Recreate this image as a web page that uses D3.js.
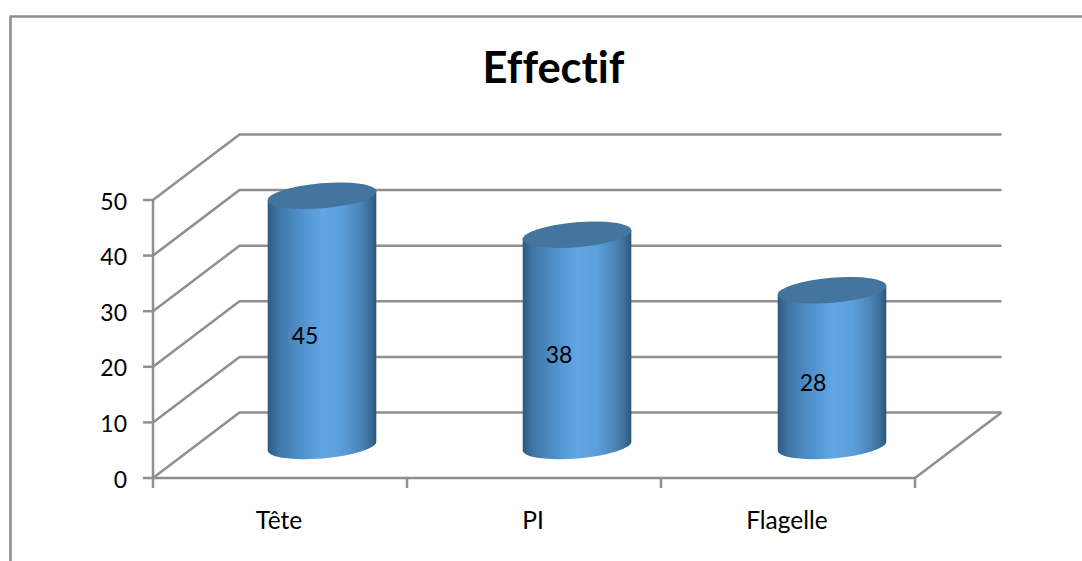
<!DOCTYPE html>
<html><head><meta charset="utf-8">
<script src="https://cdn.jsdelivr.net/npm/d3@7"></script>
<style>html,body{margin:0;background:#fff}svg{display:block}text{font-family:Lato,"Open Sans",sans-serif;fill:#000;font-variant-ligatures:none}</style>
</head><body><div id="c"></div>
<script>
const categories = ["Tête","PI","Flagelle"];
const values = [45,38,28];
const yTicks = [0,10,20,30,40,50];
const title = "Effectif";

const W=1082,H=561,grid="#8f8f8f";
const depthX=86.5, depthY=-65.5;
const svg=d3.select("#c").append("svg").attr("width",W).attr("height",H);
const x=d3.scaleBand().domain(categories).range([153,915]);
const xBar=d3.scalePoint().domain(categories).range([322,832]);
const y=d3.scaleLinear().domain([0,50]).range([478,200]);

const defs=svg.append("defs");
const g=defs.append("linearGradient").attr("id","cyl").attr("x1",0).attr("x2",1).attr("y1",0).attr("y2",0);
[[0,"#2f5a82"],[.1,"#3f77a6"],[.3,"#5090cb"],[.5,"#60a6e4"],[.68,"#5c9fdc"],[.85,"#4c85b9"],[.95,"#3a6a95"],[1,"#2d5577"]]
 .forEach(s=>g.append("stop").attr("offset",s[0]).attr("stop-color",s[1]));

// frame
svg.append("path").attr("d",`M10.5,${H}V16.5H${W}`).attr("fill","none").attr("stroke",grid).attr("stroke-width",2.6);

// walls and gridlines
const wall=svg.append("g").attr("fill","none").attr("stroke",grid).attr("stroke-width",2.5);
yTicks.forEach(t=>{
  wall.append("path").attr("d",d3.line()([[x.range()[0],y(t)],[x.range()[0]+depthX,y(t)+depthY],[x.range()[1]+depthX,y(t)+depthY]]));
  wall.append("line").attr("x1",143).attr("x2",x.range()[0]).attr("y1",y(t)).attr("y2",y(t));
});
wall.append("path").attr("d",d3.line()([[x.range()[0],y(50)],[x.range()[0],y(0)],[x.range()[1],y(0)],[x.range()[1]+depthX,y(0)+depthY]]));
[0,1,2,3].forEach(i=>{
  const px=x.range()[0]+i*x.step();
  wall.append("line").attr("x1",px).attr("x2",px).attr("y1",y(0)).attr("y2",488);
});

// y labels
svg.append("g").selectAll("text").data(yTicks).join("text")
  .attr("x",127).attr("y",d=>y(d)+9.5).attr("text-anchor","end").attr("font-size",23)
  .text(d=>d);

// cylinders
const rx=54.5, ry=12.5, tilt=-4.8;
const sinT=Math.sin(tilt*Math.PI/180)*rx, cosT=Math.cos(tilt*Math.PI/180)*rx;
const bars=svg.append("g").selectAll("g").data(values).join("g");
const cx=(d,i)=>xBar(categories[i]);
const baseY=y(0)-32;
const topY=d=>baseY-(y(0)-y(d));
bars.append("path").attr("fill","url(#cyl)").attr("d",(d,i)=>{
  const c=cx(d,i),t=topY(d);
  return `M${c-cosT},${t-sinT}L${c-cosT},${baseY-sinT}A${rx},${ry} ${tilt} 0 0 ${c+cosT},${baseY+sinT}L${c+cosT},${t+sinT}Z`;
});
bars.append("ellipse").attr("rx",rx).attr("ry",ry).attr("fill","#44759f")
  .attr("transform",(d,i)=>`translate(${cx(d,i)},${topY(d)}) rotate(${tilt})`);
bars.append("text").attr("x",(d,i)=>x(categories[i])+x.bandwidth()/2+25).attr("y",d=>y(d/2)-18+9)
  .attr("text-anchor","middle").attr("font-size",23).text(d=>d);

// category labels
svg.append("g").selectAll("text").data(categories).join("text")
  .attr("x",d=>x(d)+x.bandwidth()/2-1).attr("y",529).attr("text-anchor","middle").attr("font-size",24.5).text(d=>d);

svg.append("text").attr("x",553.5).attr("y",83).attr("text-anchor","middle").attr("font-size",43.5).attr("font-weight",700).text(title);
</script></body></html>
